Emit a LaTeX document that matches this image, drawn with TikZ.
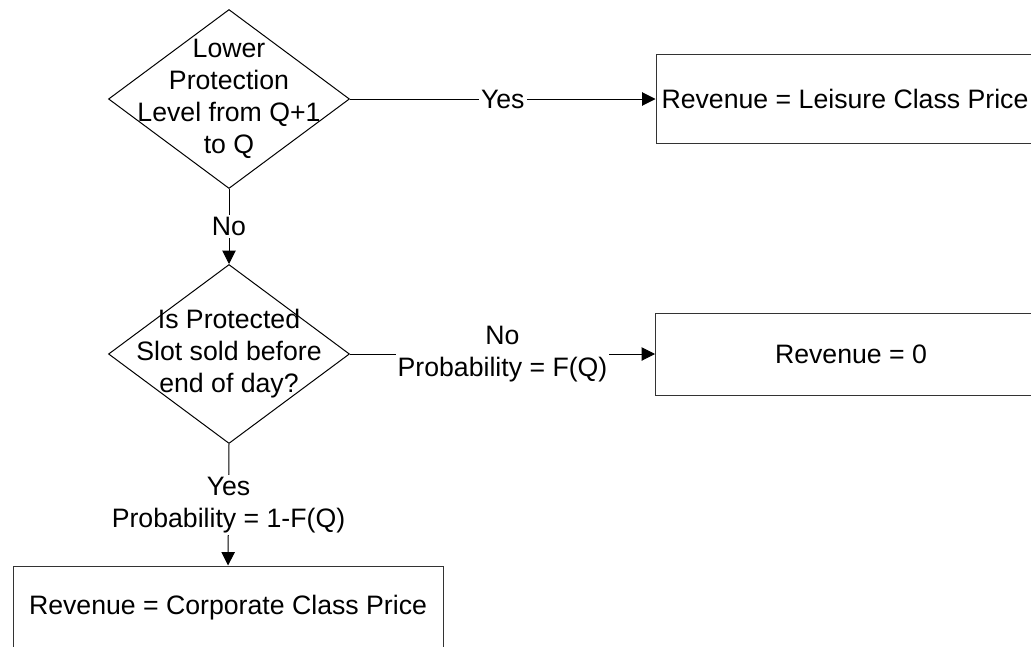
\documentclass[tikz,border=0pt]{standalone}
\usepackage{fontspec}
\setmainfont{Liberation Sans}
\usetikzlibrary{shapes.geometric,arrows.meta}
\begin{document}
\begin{tikzpicture}[x=0.75pt,y=-0.75pt,
  every node/.style={font=\fontsize{20pt}{24pt}\selectfont},
  decision/.style={draw, shape=diamond, minimum width=180.75pt, minimum height=134.25pt, inner sep=0pt, line width=0.75pt},
  dtext/.style={align=center, inner sep=0pt},
  outcome/.style={draw=black!80, rectangle, line width=0.75pt, inner sep=0pt},
  lbl/.style={fill=white, align=center, inner sep=1.5pt},
  flow/.style={line width=0.75pt, -{Triangle[length=10pt,width=10pt]}},
]
\useasboundingbox (0,0) rectangle (1031,646);
\clip (0,0) rectangle (1031,646);
\fill[white] (0,0) rectangle (1031,646);

\node[decision] (d1) at (229,99) {};
\node[dtext] (d1t) at (d1.center) {Lower\\Protection\\Level from Q+1\\to Q};

\node[decision] (d2) at (229,354) {};
\node[dtext] (d2t) at (d2.center) {Is Protected\\Slot sold before\\end of day?};

\node[outcome, minimum width=283.5pt, minimum height=66.75pt] (b1) at (845,99) {Revenue = Leisure Class Price};
\node[outcome, minimum width=293.25pt, minimum height=61.5pt] (b2) at (851,354) {Revenue = 0};
\node[outcome, minimum width=322.5pt, minimum height=63pt] (b3) at (228,608) {Revenue = Corporate Class Price};

\draw[flow] (d1.east) -- node[lbl] {Yes} (b1.west);
\draw[flow] (d1.south) -- node[lbl] {No} (d2.north);
\draw[flow] (d2.east) -- node[lbl] {No\\Probability = F(Q)} (b2.west);
\draw[flow] (d2.south) -- node[lbl] {Yes\\Probability = 1-F(Q)} (b3.north);
\end{tikzpicture}
\end{document}
